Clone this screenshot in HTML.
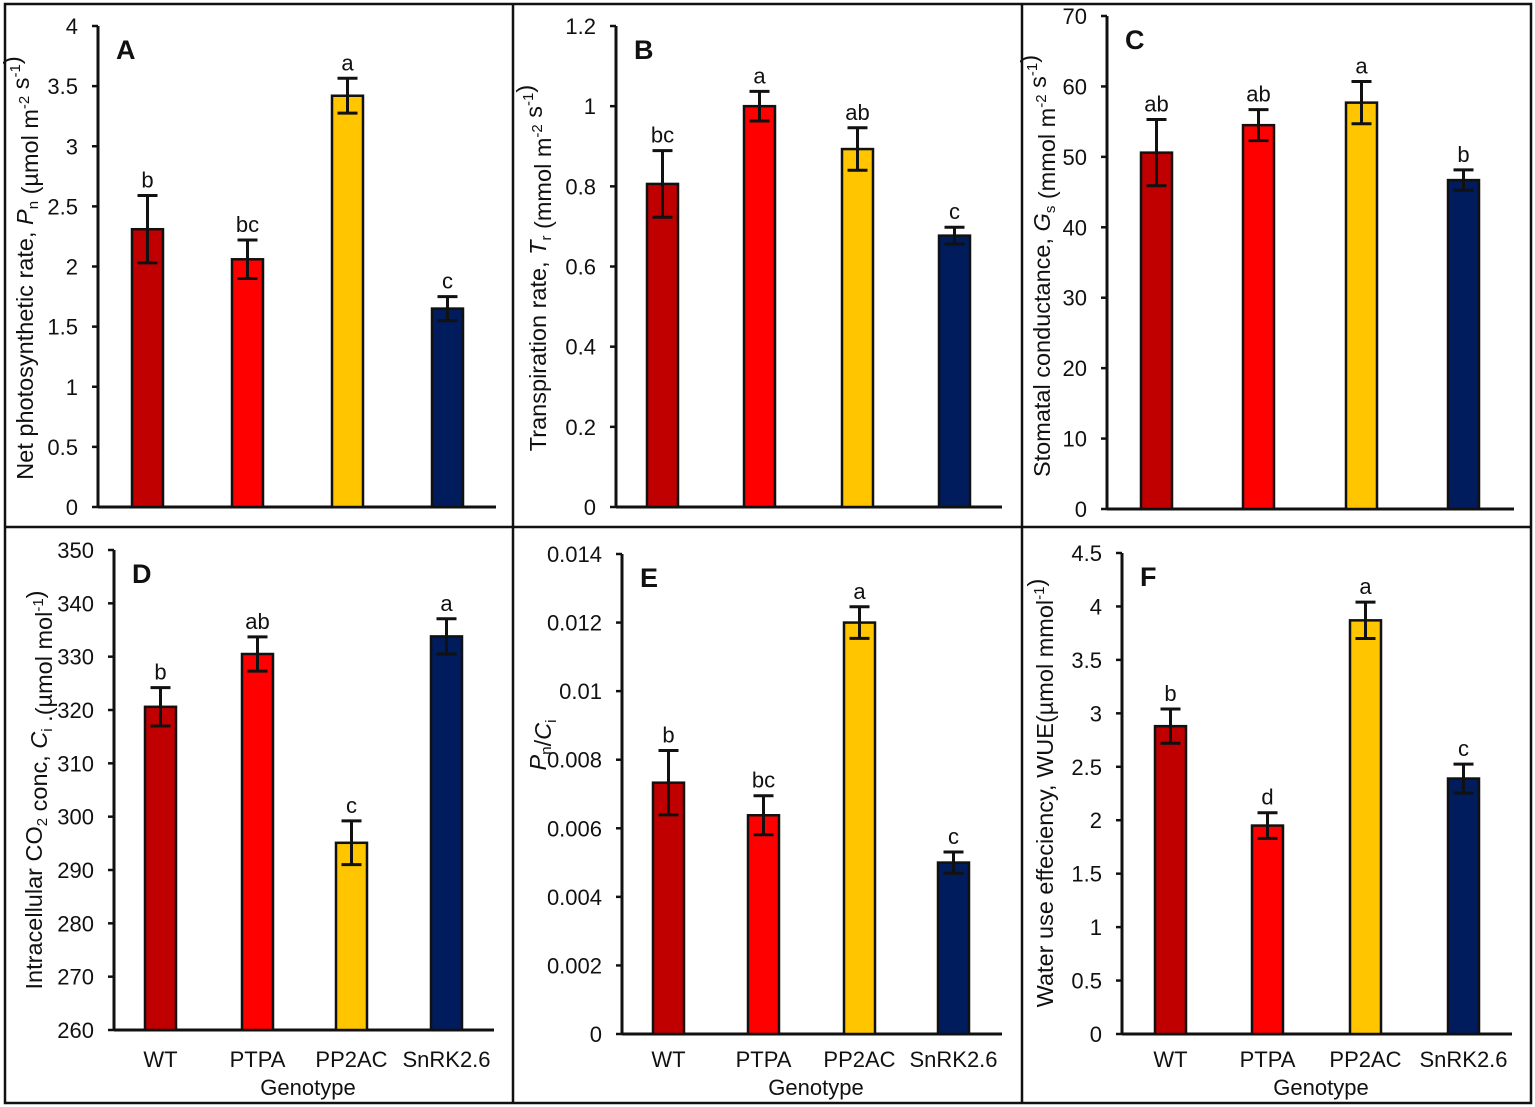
<!DOCTYPE html>
<html><head><meta charset="utf-8"><style>
html,body{margin:0;padding:0;background:#fff}
svg{display:block;font-family:"Liberation Sans",Arial,sans-serif}
</style></head><body>
<svg id="fig" width="1535" height="1107" viewBox="0 0 1535 1107">
<rect x="0" y="0" width="1535" height="1107" fill="#fff"/>
<g stroke="#111" stroke-width="2.5" fill="none">
<rect x="5" y="4" width="1526" height="1099"/>
<line x1="5" y1="527" x2="1531" y2="527"/>
<line x1="513" y1="4" x2="513" y2="1103"/>
<line x1="1022" y1="4" x2="1022" y2="1103"/>
</g>
</svg>
<script>
const categories = ["WT","PTPA","PP2AC","SnRK2.6"];
const colors = ["#c00000","#ff0000","#ffc600","#001c5c"];
const valuesA = [2.31, 2.06, 3.42, 1.65];
const errA = [0.28, 0.16, 0.145, 0.10];
const lettersA = ["b","bc","a","c"];
const valuesB = [0.806, 1.0, 0.893, 0.677];
const errB = [0.083, 0.037, 0.053, 0.021];
const lettersB = ["bc","a","ab","c"];
const valuesC = [50.6, 54.5, 57.7, 46.7];
const errC = [4.7, 2.2, 3.0, 1.45];
const lettersC = ["ab","ab","a","b"];
const valuesD = [320.6, 330.5, 295.1, 333.8];
const errD = [3.6, 3.2, 4.1, 3.3];
const lettersD = ["b","ab","c","a"];
const valuesE = [0.00733, 0.00638, 0.0120, 0.00500];
const errE = [0.00094, 0.00057, 0.00046, 0.00031];
const lettersE = ["b","bc","a","c"];
const valuesF = [2.88, 1.95, 3.87, 2.39];
const errF = [0.16, 0.12, 0.17, 0.135];
const lettersF = ["b","d","a","c"];
const ticksA = ["0","0.5","1","1.5","2","2.5","3","3.5","4"];
const ticksB = ["0","0.2","0.4","0.6","0.8","1","1.2"];
const ticksC = ["0","10","20","30","40","50","60","70"];
const ticksD = ["260","270","280","290","300","310","320","330","340","350"];
const ticksE = ["0","0.002","0.004","0.006","0.008","0.01","0.012","0.014"];
const ticksF = ["0","0.5","1","1.5","2","2.5","3","3.5","4","4.5"];

const NS="http://www.w3.org/2000/svg";
const svg=document.getElementById('fig');
function mk(tag,attrs,parent){const e=document.createElementNS(NS,tag);for(const k in attrs)e.setAttribute(k,attrs[k]);(parent||svg).appendChild(e);return e;}

function panel(p){
  const g=mk('g',{});
  
  
  const t0=parseFloat(p.ticks[0]), t1=parseFloat(p.ticks[p.ticks.length-1]);
  const y=v=>p.y0+(v-t0)/(t1-t0)*(p.y1-p.y0);
  const ax=mk('line',{x1:p.ax,y1:p.y1,x2:p.ax,y2:p.y0,stroke:'#111','stroke-width':3},g);
  
  
  const bx=mk('line',{x1:p.ax,y1:p.y0,x2:p.xend,y2:p.y0,stroke:'#111','stroke-width':3},g);
  
  
  p.ticks.forEach(t=>{
    const v=parseFloat(t), yy=y(v);
    mk('line',{x1:p.ax-6,y1:yy,x2:p.ax,y2:yy,stroke:'#111','stroke-width':2.5},g);
    const tx=mk('text',{x:p.ax-20,y:yy+8,'text-anchor':'end','font-size':22,fill:'#111'},g);
    tx.textContent=t;
    
    
  });
  p.vals.forEach((v,i)=>{
    const x=p.bars[i];
    const r=mk('rect',{x:x,y:y(v),width:31,height:p.y0-y(v),fill:colors[i],stroke:'#111','stroke-width':2.5},g);
    
    
    const cx=x+15.5, hi=y(v+p.err[i]), lo=y(v-p.err[i]);
    const eb=mk('path',{d:`M${cx},${hi}V${lo}M${cx-10},${hi}H${cx+10}M${cx-10},${lo}H${cx+10}`,stroke:'#111','stroke-width':3,fill:'none'},g);
    
    
    const lt=mk('text',{x:cx,y:hi-8,'text-anchor':'middle','font-size':22,fill:'#111'},g);
    lt.textContent=p.letters[i];
    
    
    if(p.cat){
      const ct=mk('text',{x:cx,y:1067,'text-anchor':'middle','font-size':22,fill:'#111'},g);
      ct.textContent=categories[i];
      
      
    }
  });
  const pl=mk('text',{x:p.ax+18,y:p.y1+33,'font-size':27,'font-weight':'bold',fill:'#111'},g);
  pl.textContent=p.id;
  
  
  if(p.cat){
    const gt=mk('text',{x:(p.ax+p.xend)/2+4,y:1095,'text-anchor':'middle','font-size':22,fill:'#111'},g);
    gt.textContent='Genotype';
    
    
  }
  const yt=mk('text',{transform:`translate(${p.tx},${p.tc}) rotate(-90)`,'text-anchor':'middle','font-size':23.5,fill:'#111'},g);
  yt.innerHTML=p.title;
  
  
}
const sub=s=>`<tspan dy="5" font-size="15">${s}</tspan><tspan dy="-5"></tspan>`;
const sup=s=>`<tspan dy="-9" font-size="15">${s}</tspan><tspan dy="9"></tspan>`;
panel({id:'A',ticks:ticksA,vals:valuesA,err:errA,letters:lettersA,ax:98,y0:507,y1:26,xend:496,bars:[132,232,332,432],tx:33,tc:268,
  title:`Net photosynthetic rate, <tspan font-style="italic">P</tspan>${sub('n')} (µmol m${sup('-2')} s${sup('-1')})`});
panel({id:'B',ticks:ticksB,vals:valuesB,err:errB,letters:lettersB,ax:616,y0:507,y1:26,xend:1002,bars:[647,744,842,939],tx:546,tc:268,
  title:`Transpiration rate, <tspan font-style="italic">T</tspan>${sub('r')} (mmol m${sup('-2')} s${sup('-1')})`});
panel({id:'C',ticks:ticksC,vals:valuesC,err:errC,letters:lettersC,ax:1107,y0:509,y1:16,xend:1514,bars:[1141,1243,1346,1448],tx:1050,tc:266,
  title:`Stomatal conductance, <tspan font-style="italic">G</tspan>${sub('s')} (mmol m${sup('-2')} s${sup('-1')})`});
panel({id:'D',ticks:ticksD,vals:valuesD,err:errD,letters:lettersD,ax:114,y0:1030,y1:550,xend:494,bars:[145,242,336,431],tx:42,tc:790,cat:true,
  title:`Intracellular CO${sub('2')} conc, <tspan font-style="italic">C</tspan>${sub('i')} .(µmol mol${sup('-1')})`});
panel({id:'E',ticks:ticksE,vals:valuesE,err:errE,letters:lettersE,ax:622,y0:1034,y1:554,xend:1002,bars:[653,748,844,938],tx:546,tc:745,cat:true,
  title:`<tspan font-style="italic">P</tspan>${sub('n')}/<tspan font-style="italic">C</tspan>${sub('i')}`});
panel({id:'F',ticks:ticksF,vals:valuesF,err:errF,letters:lettersF,ax:1122,y0:1034,y1:553,xend:1512,bars:[1155,1252,1350,1448],tx:1053,tc:793,cat:true,
  title:`Water use effeciency, WUE(µmol mmol${sup('-1')})`});
</script>
</body></html>
